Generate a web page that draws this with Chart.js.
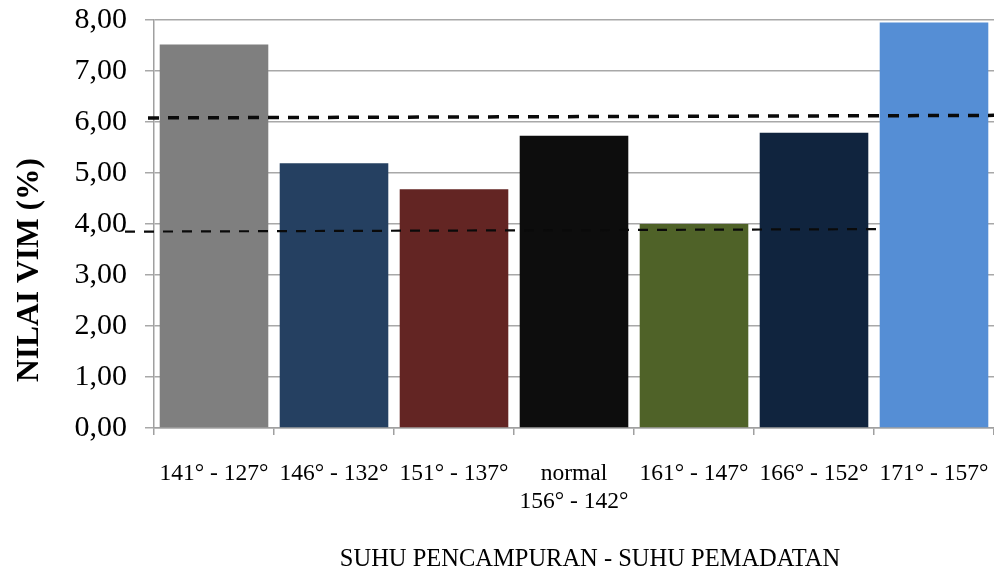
<!DOCTYPE html>
<html>
<head>
<meta charset="utf-8">
<script src="https://cdn.jsdelivr.net/npm/chart.js@4"></script>
<style>
  html, body { margin: 0; padding: 0; background: #ffffff; }
  #wrap { width: 994px; height: 573px; overflow: hidden; }
</style>
</head>
<body>
<div id="wrap"><canvas id="c" width="994" height="573"></canvas></div>
<script>
// Mixing temperature - compaction temperature groups
const categories = [
  '141° - 127°',
  '146° - 132°',
  '151° - 137°',
  ['normal', '156° - 142°'],
  '161° - 147°',
  '166° - 152°',
  '171° - 157°'
];
// VIM (%) per group
const vimValues = [7.52, 5.19, 4.68, 5.73, 4.00, 5.79, 7.95];
const barColors = ['#7f7f7f', '#254061', '#632523', '#0d0d0d', '#4f6228', '#10243e', '#558ed5'];
const yTickLabels = ['0,00', '1,00', '2,00', '3,00', '4,00', '5,00', '6,00', '7,00', '8,00'];
// Specification limits (start / end value of each dashed line)
const upperLimit = [6.08, 6.13];
const lowerLimit = [3.85, 3.90];
const xTitle = 'SUHU PENCAMPURAN - SUHU PEMADATAN';
const yTitle = 'NILAI VIM (%)';

const serif = "'Liberation Serif', 'Times New Roman', serif";

const limitLines = {
  id: 'limitLines',
  afterDatasetsDraw(chart) {
    const { ctx, chartArea, scales } = chart;
    const y = scales.y, x = scales.x;
    const half = (x.getPixelForValue(1) - x.getPixelForValue(0)) / 2;
    const lines = [
      { v: upperLimit, x0: chartArea.left - 6, x1: chartArea.right, w: 3.5, dash: [11, 9] },
      { v: lowerLimit, x0: chartArea.left - 29, x1: x.getPixelForValue(6) - half + 6, w: 2.2, dash: [10, 9] }
    ];
    ctx.save();
    ctx.strokeStyle = '#0a0a0a';
    for (const l of lines) {
      ctx.lineWidth = l.w;
      ctx.setLineDash(l.dash);
      ctx.beginPath();
      ctx.moveTo(l.x0, y.getPixelForValue(l.v[0]));
      ctx.lineTo(l.x1, y.getPixelForValue(l.v[1]));
      ctx.stroke();
    }
    ctx.restore();
  }
};

const axisTitles = {
  id: 'axisTitles',
  afterDraw(chart) {
    const { ctx, chartArea } = chart;
    ctx.save();
    ctx.fillStyle = '#000000';
    ctx.textAlign = 'center';
    ctx.textBaseline = 'alphabetic';
    ctx.font = '24.5px ' + serif;
    ctx.fillText(xTitle, (chartArea.left + chartArea.right) / 2 + 16, chartArea.bottom + 138);
    ctx.translate(38, (chartArea.top + chartArea.bottom) / 2 + 46);
    ctx.rotate(-Math.PI / 2);
    ctx.font = 'bold 31.5px ' + serif;
    ctx.fillText(yTitle, 0, 0);
    ctx.restore();
  }
};

new Chart(document.getElementById('c'), {
  type: 'bar',
  data: {
    labels: categories,
    datasets: [{
      data: vimValues,
      backgroundColor: barColors,
      borderWidth: 0,
      barPercentage: 0.905,
      categoryPercentage: 1.0
    }]
  },
  options: {
    responsive: false,
    animation: false,
    devicePixelRatio: 1,
    layout: { padding: { top: 20, left: 0, right: 0, bottom: 0 } },
    plugins: { legend: { display: false }, tooltip: { enabled: false } },
    scales: {
      x: {
        offset: true,
        grid: { display: true, drawOnChartArea: false, offset: true, color: '#a0a0a0', lineWidth: 1.5, tickLength: 7 },
        border: { color: '#a0a0a0', width: 1.5 },
        ticks: {
          color: '#000000', font: { family: serif, size: 23.5 }, maxRotation: 0, autoSkip: false, padding: 25
        },
        afterFit(scale) {
          scale.height = 145;
          scale.paddingLeft = 0;
          scale.paddingRight = 0;
        }
      },
      y: {
        min: 0, max: 8,
        grid: { color: '#a8a8a8', lineWidth: 1.5, tickLength: 9 },
        border: { color: '#a0a0a0', width: 1.5 },
        ticks: {
          stepSize: 1, color: '#000000', font: { family: serif, size: 30 }, padding: 18,
          callback: (v, i) => yTickLabels[i]
        },
        afterFit(scale) {
          scale.width = 154;
          scale.paddingTop = 0;
          scale.paddingBottom = 0;
        }
      }
    }
  },
  plugins: [limitLines, axisTitles]
});
</script>
</body>
</html>
